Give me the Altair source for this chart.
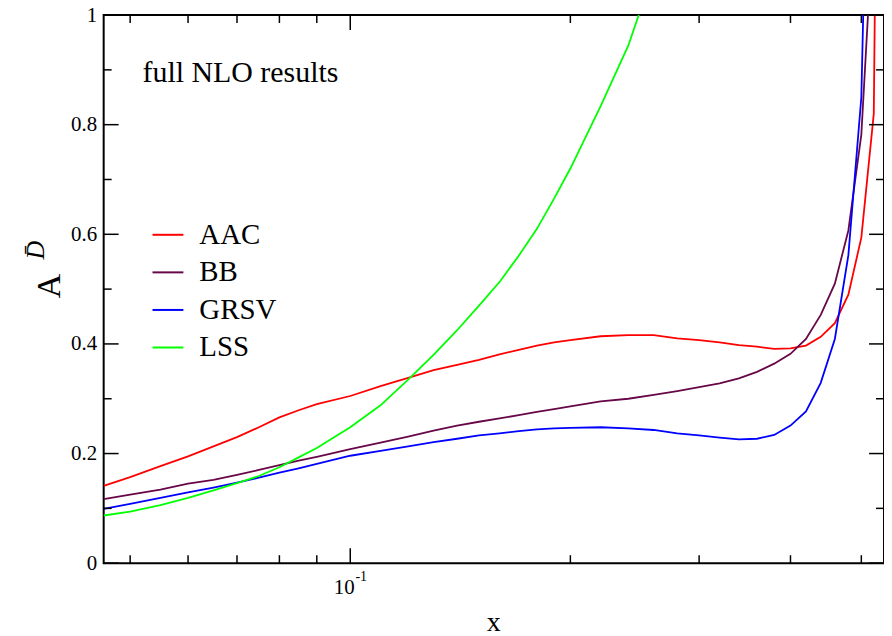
import altair as alt
import pandas as pd

FONT = "Liberation Serif"
W, H = 783, 550

# ---------------- data ----------------
x_main = [0.046, 0.05, 0.055, 0.06, 0.065, 0.07, 0.075, 0.08, 0.085, 0.09,
          0.10, 0.11, 0.12, 0.13, 0.14, 0.15, 0.16, 0.17, 0.18, 0.19, 0.20,
          0.22, 0.24, 0.26, 0.28, 0.30, 0.32, 0.34, 0.36, 0.38, 0.40, 0.42,
          0.44, 0.46, 0.48, 0.50, 0.52, 0.54]
aac = [0.141, 0.157, 0.177, 0.195, 0.213, 0.230, 0.248, 0.266, 0.279, 0.290,
       0.305, 0.323, 0.338, 0.352, 0.362, 0.371, 0.381, 0.389, 0.397, 0.403, 0.407,
       0.414, 0.416, 0.416, 0.410, 0.407, 0.403, 0.398, 0.395, 0.391, 0.392, 0.397,
       0.413, 0.438, 0.490, 0.594, 0.820, 3.0]
bb = [0.117, 0.125, 0.134, 0.145, 0.152, 0.161, 0.170, 0.179, 0.187, 0.194,
      0.208, 0.220, 0.231, 0.242, 0.251, 0.258, 0.264, 0.270, 0.276, 0.281, 0.286,
      0.295, 0.300, 0.307, 0.314, 0.321, 0.328, 0.337, 0.349, 0.364, 0.382, 0.409,
      0.453, 0.510, 0.607, 0.782, 1.19, 2.0]
grsv = [0.099, 0.108, 0.119, 0.129, 0.138, 0.147, 0.156, 0.165, 0.173, 0.181,
        0.196, 0.205, 0.213, 0.221, 0.227, 0.233, 0.237, 0.241, 0.244, 0.246, 0.247,
        0.248, 0.246, 0.243, 0.237, 0.233, 0.229, 0.226, 0.227, 0.234, 0.251, 0.277,
        0.329, 0.409, 0.562, 0.850, 1.84, 3.0]
x_lss = x_main[:24]
lss = [0.087, 0.094, 0.106, 0.119, 0.133, 0.146, 0.159, 0.175, 0.193, 0.210,
       0.248, 0.288, 0.335, 0.380, 0.425, 0.470, 0.513, 0.561, 0.610, 0.665, 0.720,
       0.834, 0.944, 1.08]

series_names = ["AAC", "BB", "GRSV", "LSS"]
series_colors = ["#ff0000", "#670748", "#0000ff", "#00ff00"]

x_major_ticks = [0.1]
x_minor_ticks = [0.05, 0.06, 0.07, 0.08, 0.09, 0.2, 0.3, 0.4, 0.5]
y_major_ticks = [0, 0.2, 0.4, 0.6, 0.8, 1.0]
y_minor_ticks = [0.1, 0.3, 0.5, 0.7, 0.9]

rows = []
for name, xs, ys in [("AAC", x_main, aac), ("BB", x_main, bb),
                     ("GRSV", x_main, grsv), ("LSS", x_lss, lss)]:
    for a, b in zip(xs, ys):
        rows.append({"x": a, "y": b, "series": name})
df = pd.DataFrame(rows)

xscale = alt.Scale(type="log", domain=[0.046, 0.537], nice=False, zero=False)
yscale = alt.Scale(domain=[0, 1], nice=False, zero=False)
yaxis = alt.Axis(values=y_major_ticks, format="~g", ticks=False, domain=False,
                 grid=False, labelFont=FONT, labelFontSize=21, labelPadding=7,
                 labelColor="black", title=None)

lines = alt.Chart(df).mark_line(clip=True, strokeWidth=1.8).encode(
    x=alt.X("x:Q", scale=xscale, axis=None),
    y=alt.Y("y:Q", scale=yscale, axis=yaxis),
    color=alt.Color("series:N",
                    scale=alt.Scale(domain=series_names, range=series_colors),
                    sort=series_names,
                    legend=alt.Legend(orient="none", legendX=48, legendY=204, title=None,
                                      symbolType="stroke", symbolSize=961,
                                      symbolStrokeWidth=2, labelFont=FONT,
                                      labelFontSize=29, labelOffset=15, rowPadding=5.7,
                                      padding=0, labelColor="black")),
)


def xticks(vals, length):
    d = pd.DataFrame({"v": vals})
    bot = alt.Chart(d).mark_rule(color="black", strokeWidth=1.5).encode(
        x=alt.X("v:Q", scale=xscale, axis=None),
        y=alt.value(H), y2=alt.value(H - length))
    top = alt.Chart(d).mark_rule(color="black", strokeWidth=1.5).encode(
        x=alt.X("v:Q", scale=xscale, axis=None),
        y=alt.value(0), y2=alt.value(length))
    return [bot, top]


def yticks(vals, length):
    d = pd.DataFrame({"v": vals})
    left = alt.Chart(d).mark_rule(color="black", strokeWidth=1.5).encode(
        y=alt.Y("v:Q", scale=yscale, axis=yaxis),
        x=alt.value(0), x2=alt.value(length))
    right = alt.Chart(d).mark_rule(color="black", strokeWidth=1.5).encode(
        y=alt.Y("v:Q", scale=yscale, axis=yaxis),
        x=alt.value(W), x2=alt.value(W - length))
    return [left, right]


tick_layers = xticks(x_major_ticks, 15) + xticks(x_minor_ticks, 8) + \
    yticks(y_major_ticks, 15) + yticks(y_minor_ticks, 8)

lab10 = alt.Chart(pd.DataFrame({"v": [0.1], "t": ["10"]})).mark_text(
    font=FONT, fontSize=21, baseline="alphabetic", align="center", dx=-6, color="black"
).encode(x=alt.X("v:Q", scale=xscale, axis=None), y=alt.value(581), text="t:N")
labexp = alt.Chart(pd.DataFrame({"v": [0.1], "t": ["-1"]})).mark_text(
    font=FONT, fontSize=14, baseline="alphabetic", align="center", dx=11, color="black"
).encode(x=alt.X("v:Q", scale=xscale, axis=None), y=alt.value(568), text="t:N")

xtitle = alt.Chart(pd.DataFrame({"t": ["x"]})).mark_text(
    font=FONT, fontSize=28, baseline="alphabetic", align="center", color="black"
).encode(x=alt.value(W / 2), y=alt.value(618), text="t:N")

ytitle_a = alt.Chart(pd.DataFrame({"t": ["A"]})).mark_text(
    font=FONT, fontSize=34, baseline="middle", align="center", angle=270, color="black"
).encode(x=alt.value(-54), y=alt.value(272), text="t:N")
ytitle_d = alt.Chart(pd.DataFrame({"t": ["D\u0304"]})).mark_text(
    font=FONT, fontSize=26, fontStyle="italic", baseline="middle", align="center",
    angle=270, color="black"
).encode(x=alt.value(-68), y=alt.value(236), text="t:N")

note = alt.Chart(pd.DataFrame({"t": ["full NLO results"]})).mark_text(
    font=FONT, fontSize=30, baseline="alphabetic", align="left", color="black"
).encode(x=alt.value(39), y=alt.value(67), text="t:N")

chart = alt.layer(lines, *tick_layers, lab10, labexp, xtitle, ytitle_a, ytitle_d, note).properties(
    width=W, height=H,
    autosize=alt.AutoSizeParams(type="none"),
    padding={"left": 96, "top": 6, "right": 0, "bottom": 72},
    background="white",
).configure_view(stroke="black", strokeWidth=2)

chart.save("out.html", embed_options={"renderer": "svg", "actions": False})
